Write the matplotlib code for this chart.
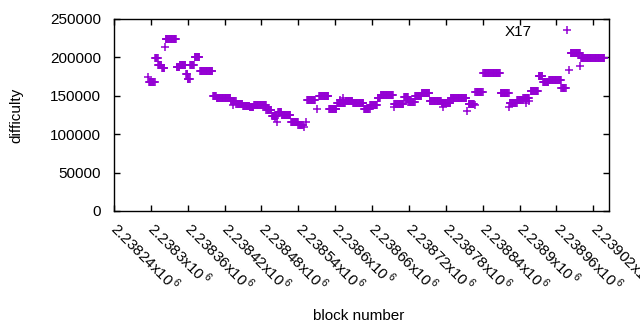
import numpy as np
import matplotlib
matplotlib.use('Agg')
import matplotlib.pyplot as plt

plt.rcParams['font.family'] = ['Liberation Sans', 'DejaVu Sans']
plt.rcParams['mathtext.fontset'] = 'custom'
plt.rcParams['mathtext.rm'] = 'Liberation Sans'

# block numbers are given as offset from base_block
base_block = 2238240
# runs of equal difficulty: first block, last block, difficulty
run_first = [55, 57, 67, 72, 78, 83, 84, 102, 107, 117, 120, 124, 131, 140, 161, 167, 190, 194,
             199, 210, 221, 228, 248, 257, 262, 266, 267, 273, 288, 300, 309, 313, 314, 330, 334,
             350, 363, 367, 373, 377, 389, 407, 417, 429, 434, 455, 456, 472, 479, 490, 501, 514,
             533, 535, 548, 575, 577, 587, 588, 601, 629, 643, 644, 656, 666, 670, 676, 678, 691,
             698, 708, 728, 741, 743, 759, 760]
run_last = [55, 66, 71, 77, 82, 83, 101, 106, 116, 119, 123, 130, 139, 160, 166, 189, 198, 194,
            209, 220, 227, 247, 256, 265, 262, 266, 272, 287, 299, 307, 309, 313, 327, 330, 349,
            362, 376, 367, 373, 388, 406, 416, 428, 433, 454, 455, 471, 478, 489, 500, 513, 532,
            547, 535, 573, 575, 586, 587, 600, 628, 642, 643, 655, 665, 675, 670, 676, 690, 697,
            707, 727, 735, 741, 758, 759, 798]
run_diff = [174900, 167600, 198800, 189700, 186500, 213100, 223500, 187900, 189700, 178000,
            171900, 189700, 200100, 181900, 149300, 146700, 143200, 138000, 139700, 136300,
            135000, 138000, 131100, 123700, 120700, 116300, 129300, 125000, 115900, 112400,
            109800, 116300, 144100, 132400, 149700, 133200, 140200, 144500, 147500, 143600,
            140200, 132400, 138400, 147100, 150600, 135800, 138900, 148000, 141500, 149300,
            153200, 143600, 140600, 135500, 146700, 130200, 138900, 138000, 155500, 179300,
            153200, 135800, 141000, 144000, 147000, 140000, 143000, 156600, 175800, 168400,
            170100, 159800, 183600, 205300, 188800, 198800]

xticks = [base_block + 60 * i for i in range(14)]
yticks = [0, 50000, 100000, 150000, 200000, 250000]

blocks = []
diffs = []
for f, l, d in zip(run_first, run_last, run_diff):
    for b in range(f, l + 1):
        blocks.append(base_block + b)
        diffs.append(d)

fig = plt.figure(figsize=(6.4, 3.3), dpi=100)
ax = fig.add_axes([114 / 640, 1 - 211 / 330, 495 / 640, 192 / 330])

ax.plot(blocks, diffs, linestyle='none', marker='+', markersize=5.5,
        markeredgewidth=1.1, color='#9400d3', label='X17')

ax.set_xlim(base_block, base_block + 805.5)
ax.set_ylim(0, 250000)
ax.set_xticks(xticks)
ax.set_xticklabels(['%sx10$^{\\,6}$' % ('%.6g' % (v / 1e6)) for v in xticks],
                   rotation=-45, ha='left', va='center', rotation_mode='anchor')
ax.set_yticks(yticks)
ax.set_yticklabels([str(v) for v in yticks])
ax.tick_params(direction='in', top=True, right=True, length=4, width=1,
               labelsize=11, pad=9.5, colors='black')
ax.tick_params(axis='x', pad=10)
for s in ax.spines.values():
    s.set_linewidth(1)

ax.set_xlabel('block number', fontsize=11, va='center')
ax.xaxis.set_label_coords(0.495, (211 - 316) / 192)
ax.set_ylabel('difficulty', fontsize=11, va='center')
ax.yaxis.set_label_coords((16 - 114) / 495, 0.5)

ax.legend(loc='center left', bbox_to_anchor=((505 - 114) / 495, (211 - 31.7) / 192),
          frameon=False, markerfirst=False, fontsize=11, handlelength=2,
          handletextpad=1.29, borderpad=0, borderaxespad=0)

plt.savefig('out.png', dpi=100)
plt.close()
